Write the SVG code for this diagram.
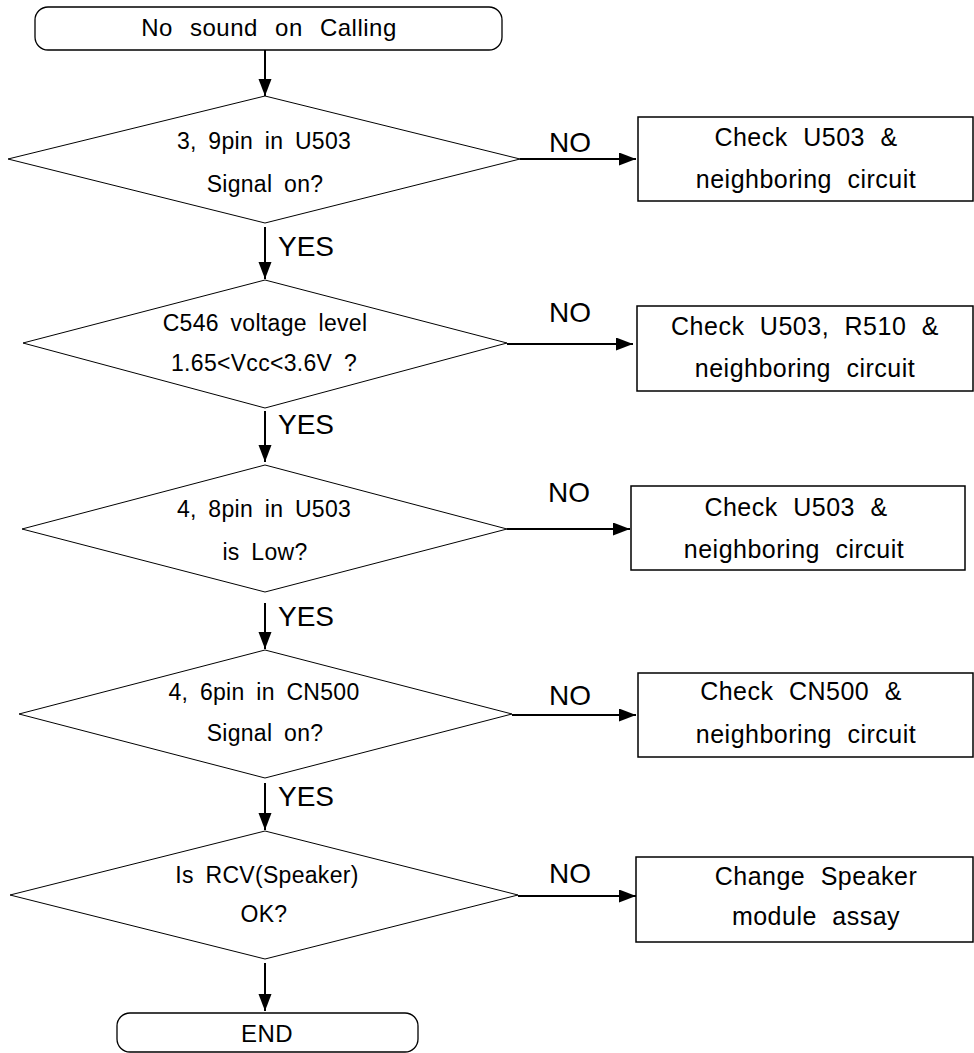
<svg xmlns="http://www.w3.org/2000/svg" width="974" height="1053" viewBox="0 0 974 1053">
<style>
text{font-family:"Liberation Sans",Arial,sans-serif;fill:#000}
.t{font-size:24px;text-anchor:middle;word-spacing:10px;letter-spacing:0.5px}
.d{font-size:23px;text-anchor:middle;word-spacing:5px;letter-spacing:0.3px}
.b{font-size:25px;text-anchor:middle;word-spacing:8px;letter-spacing:0.5px}
.l{font-size:28px}
.lc{font-size:28px;text-anchor:middle}
.term{fill:#fff;stroke:#000;stroke-width:1.3}
.dia{fill:#fff;stroke:#000;stroke-width:1}
.box{fill:#fff;stroke:#000;stroke-width:1.5}
.c{stroke:#000;stroke-width:2;fill:none;marker-end:url(#ah)}
</style>
<defs>
<marker id="ah" markerUnits="userSpaceOnUse" markerWidth="18" markerHeight="14" refX="17" refY="6.5" orient="auto">
<path d="M0,0 L17,6.5 L0,13 z" fill="#000"/>
</marker>
</defs>
<rect width="974" height="1053" fill="#fff"/>
<g id="connectors">
<line class="c" x1="265" y1="50" x2="265" y2="96"/>
<line class="c" x1="265" y1="227" x2="265" y2="279"/>
<line class="c" x1="265" y1="411" x2="265" y2="462"/>
<line class="c" x1="265" y1="603" x2="265" y2="649"/>
<line class="c" x1="265" y1="783" x2="265" y2="830"/>
<line class="c" x1="265" y1="963" x2="265" y2="1011"/>
<line class="c" x1="520" y1="159" x2="636" y2="159"/>
<line class="c" x1="507" y1="344" x2="633" y2="344"/>
<line class="c" x1="507" y1="529" x2="630" y2="529"/>
<line class="c" x1="512" y1="715" x2="636" y2="715"/>
<line class="c" x1="518" y1="896" x2="636" y2="896"/>
<text class="lc" x="570" y="152">NO</text>
<text class="lc" x="570" y="322">NO</text>
<text class="lc" x="569" y="502">NO</text>
<text class="lc" x="570" y="705">NO</text>
<text class="lc" x="570" y="883">NO</text>
<text class="l" x="278" y="256">YES</text>
<text class="l" x="278" y="434">YES</text>
<text class="l" x="278" y="626">YES</text>
<text class="l" x="278" y="806">YES</text>
</g>
<g id="start">
<rect class="term" x="35" y="7" width="467" height="43" rx="13"/>
<text class="t" x="269" y="36">No sound on Calling</text>
</g>
<g id="d1">
<polygon class="dia" points="265,96 520,159 265,223 8,159"/>
<text class="d" x="264" y="149">3, 9pin in U503</text>
<text class="d" x="265" y="192">Signal on?</text>
</g>
<g id="b1">
<rect class="box" x="638" y="117" width="335" height="84"/>
<text class="b" x="806" y="146">Check U503 &amp;</text>
<text class="b" x="806" y="188">neighboring circuit</text>
</g>
<g id="d2">
<polygon class="dia" points="265,280 507,343 265,408 23,343"/>
<text class="d" x="265" y="331">C546 voltage level</text>
<text class="d" x="264" y="371">1.65&lt;Vcc&lt;3.6V ?</text>
</g>
<g id="b2">
<rect class="box" x="637" y="306" width="336" height="85"/>
<text class="b" x="805" y="335">Check U503, R510 &amp;</text>
<text class="b" x="805" y="377">neighboring circuit</text>
</g>
<g id="d3">
<polygon class="dia" points="265,465 507,529 265,592 22,529"/>
<text class="d" x="264" y="517">4, 8pin in U503</text>
<text class="d" x="265" y="560">is Low?</text>
</g>
<g id="b3">
<rect class="box" x="631" y="486" width="334" height="84"/>
<text class="b" x="796" y="516">Check U503 &amp;</text>
<text class="b" x="794" y="558">neighboring circuit</text>
</g>
<g id="d4">
<polygon class="dia" points="265,650 512,714 265,778 19,714"/>
<text class="d" x="264" y="700">4, 6pin in CN500</text>
<text class="d" x="265" y="741">Signal on?</text>
</g>
<g id="b4">
<rect class="box" x="638" y="673" width="335" height="84"/>
<text class="b" x="801" y="700">Check CN500 &amp;</text>
<text class="b" x="806" y="743">neighboring circuit</text>
</g>
<g id="d5">
<polygon class="dia" points="265,831 518,895 265,959 10,895"/>
<text class="d" x="267" y="883">Is RCV(Speaker)</text>
<text class="d" x="264" y="922">OK?</text>
</g>
<g id="b5">
<rect class="box" x="636" y="857" width="337" height="85"/>
<text class="b" x="816" y="885">Change Speaker</text>
<text class="b" x="816" y="925">module assay</text>
</g>
<g id="end">
<rect class="term" x="117" y="1013" width="301" height="39" rx="13"/>
<text class="t" x="267" y="1042">END</text>
</g>
</svg>
